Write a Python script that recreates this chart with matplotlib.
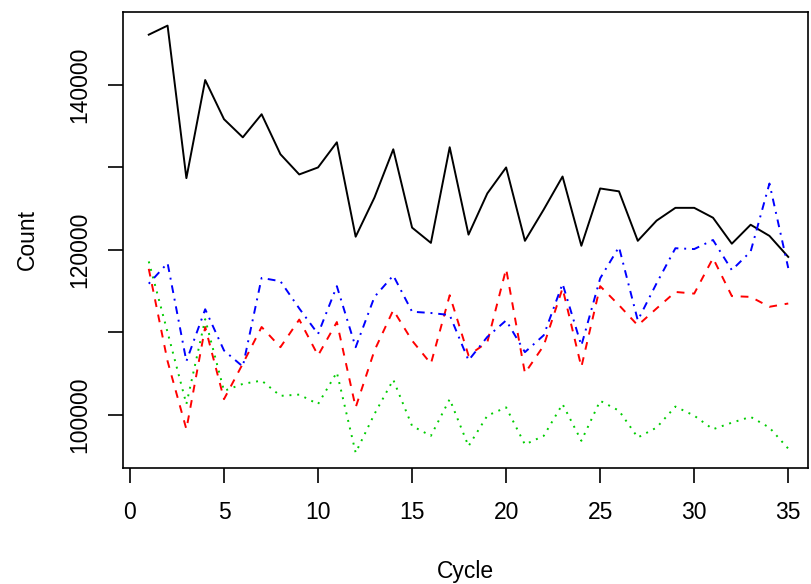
import numpy as np
import matplotlib
matplotlib.use('Agg')
import matplotlib.pyplot as plt

# cycle numbers
cycle = np.arange(1, 36)

# counts, one list per series
black_count = [146100, 147200, 128700, 140600, 135850, 133650, 136450, 131600, 129150, 130000,
               133050, 121600, 126350, 132200, 122700, 120850, 132450, 121850, 126850, 130000,
               121100, 124900, 128900, 120500, 127450, 127100, 121100, 123550, 125100, 125100,
               123900, 120750, 123050, 121700, 119150]
red_count = [117700, 106500, 98250, 110650, 101900, 106200, 110650, 108200, 111550, 107200,
             111250, 100900, 107800, 112700, 109000, 106200, 114500, 107200, 108800, 117700,
             105050, 108400, 115350, 105800, 115600, 113300, 110850, 112900, 114900, 114700,
             119000, 114400, 114300, 113100, 113500]
green_count = [118600, 110000, 101300, 111600, 102900, 103750, 104150, 102300, 102450, 101300,
               105150, 95400, 100100, 104250, 98650, 97450, 101900, 96200, 99900, 100900,
               96400, 97450, 101300, 96850, 101700, 100500, 97250, 98450, 101000, 99900,
               98250, 99050, 99750, 98450, 95900]
blue_count = [115900, 118400, 106500, 112800, 107800, 105850, 116600, 116200, 112900, 109800,
              115600, 108200, 114300, 116900, 112500, 112350, 112100, 106600, 109450, 111450,
              107600, 109650, 115900, 108400, 116550, 120350, 111450, 115950, 120200, 120100,
              121200, 117550, 119800, 128050, 117800]

plt.rcParams['font.family'] = ['Liberation Sans', 'DejaVu Sans']

fig = plt.figure(figsize=(8.11, 5.84), dpi=100)
ax = fig.add_axes([123 / 811, 1 - 468 / 584, (808 - 123) / 811, (468 - 12) / 584])

lw = 1.4
ax.plot(cycle, black_count, color='black', lw=lw)
ax.plot(cycle, red_count, color='red', lw=lw, dashes=(4, 4))
ax.plot(cycle, green_count, color='#00CD00', lw=lw, dashes=(1, 3))
ax.plot(cycle, blue_count, color='blue', lw=lw, dashes=(1, 3, 4, 3))

ax.set_xlim(-0.37, 36.05)
ax.set_ylim(93550, 148850)

ax.set_xticks([0, 5, 10, 15, 20, 25, 30, 35])
ax.set_yticks([100000, 110000, 120000, 130000, 140000])
ax.set_yticklabels(['100000', '', '120000', '', '140000'], rotation=90, va='center')

ax.tick_params(direction='out', length=11, width=1.2, labelsize=16.5)
ax.tick_params(axis='x', pad=13)
ax.tick_params(axis='y', pad=12)
for s in ax.spines.values():
    s.set_linewidth(1.2)

ax.set_xlabel('Cycle', fontsize=16.5, labelpad=26)
ax.set_ylabel('Count', fontsize=16.5, labelpad=21)

fig.savefig('out.png', dpi=100)
